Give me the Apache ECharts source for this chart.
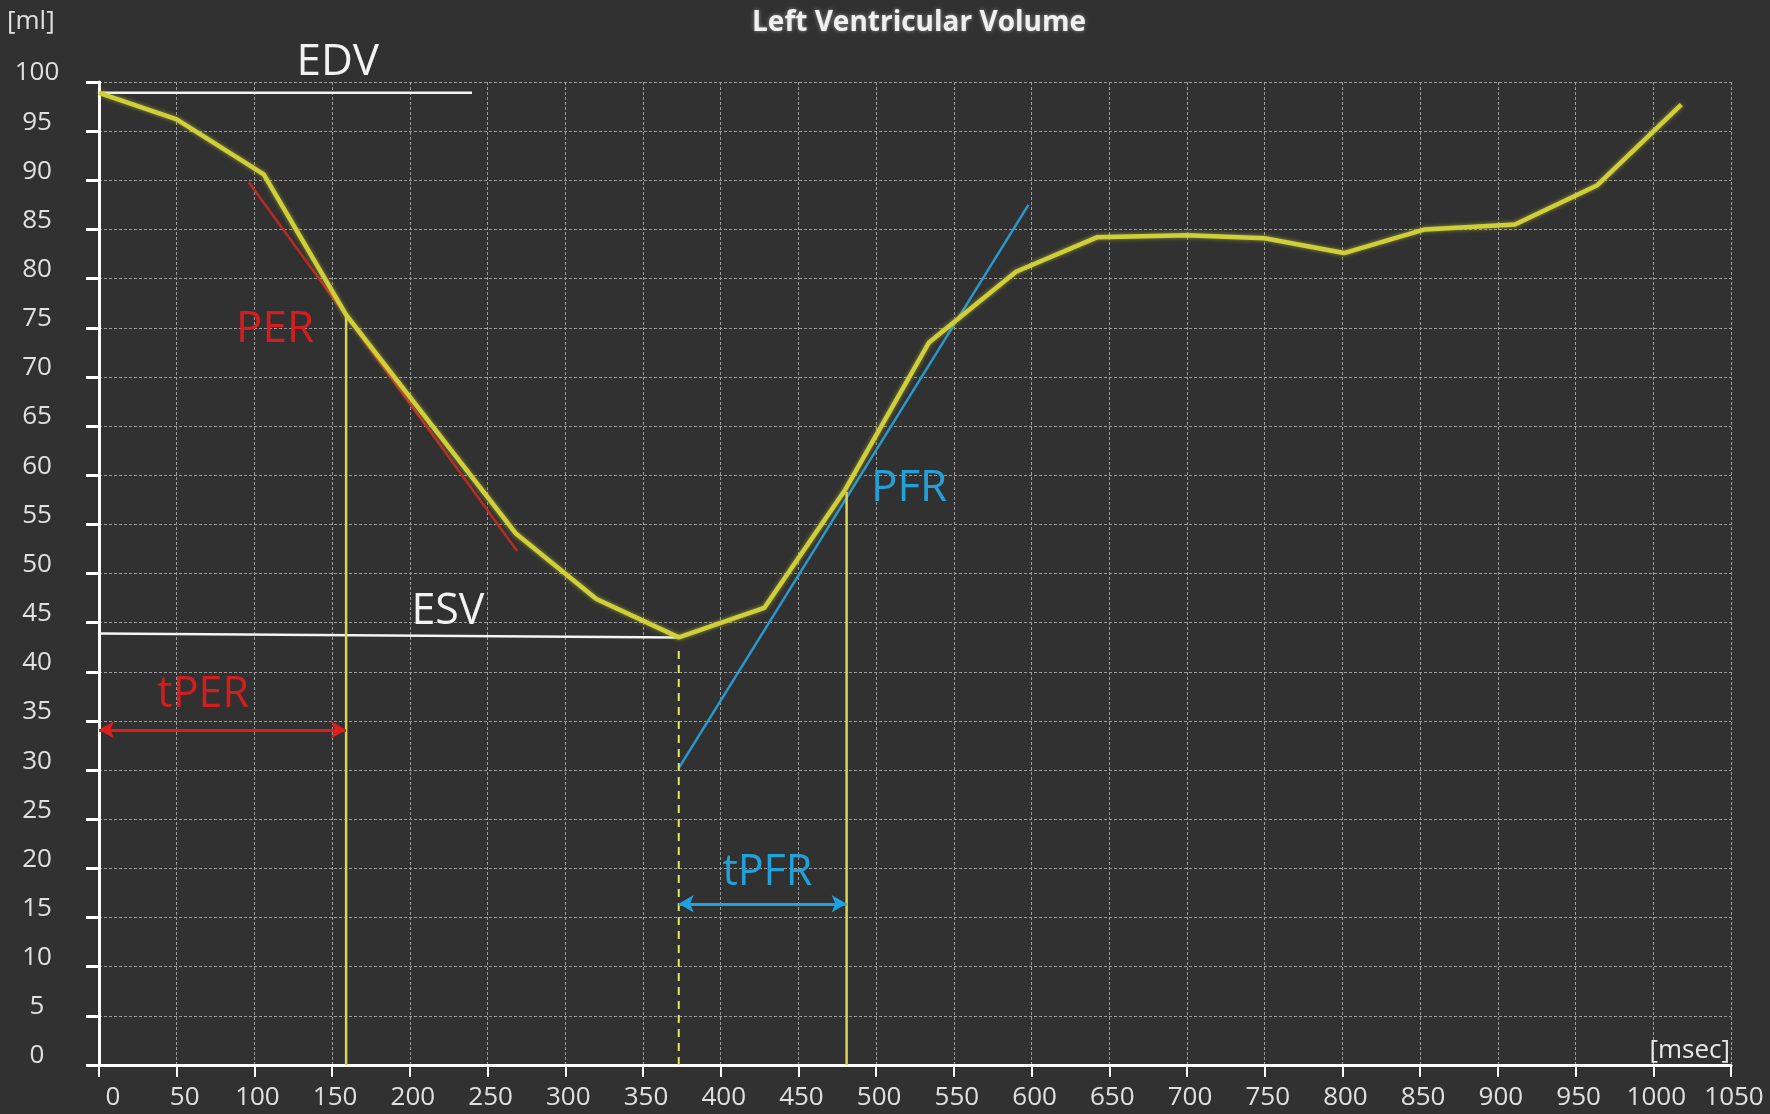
<!DOCTYPE html>
<html>
<head>
<meta charset="utf-8">
<script src="https://cdn.jsdelivr.net/npm/echarts@6/dist/echarts.min.js"></script>
<style>
html,body{margin:0;padding:0;background:#313131;}
#c{width:1770px;height:1114px;}
</style>
</head>
<body>
<div id="c"></div>
<script>
// ---- data ----
const times   = [0, 50, 106, 159, 268, 320, 373, 428, 480, 534, 590, 642, 700, 750, 801, 853, 911, 964, 1018];
const volumes = [98.9, 96.2, 90.6, 76.3, 54.1, 47.4, 43.5, 46.5, 58.5, 73.5, 80.7, 84.2, 84.4, 84.1, 82.6, 85.0, 85.5, 89.5, 97.7];

const edvLine   = [[0, 98.9], [240, 98.9]];
const esvLine   = [[0, 43.9], [373, 43.5]];
const perLine   = [[96.4, 89.8], [269, 52.3]];
const pfrLine   = [[373, 30.2], [598, 87.5]];
const perVert   = [[159, 0], [159, 76.3]];
const pfrVert   = [[481, 0], [481, 58.3]];
const esvVert   = [[373, 0], [373, 42.2]];
const tperArrow = [[0, 34.1], [159, 34.1]];
const tpfrArrow = [[373, 16.4], [481, 16.4]];

const xTicks = {min: 0, max: 1050, step: 50};
const yTicks = {min: 0, max: 100, step: 5};

const notes = [
  {text: 'EDV',  t: 153.6, v: 102.0, color: '#f2f2f2', size: 44},
  {text: 'PER',  t: 113.3, v: 74.8,  color: '#d21e1e', size: 44},
  {text: 'ESV',  t: 224.5, v: 46.1,  color: '#f2f2f2', size: 43},
  {text: 'tPER', t: 67.0,  v: 37.7,  color: '#d21e1e', size: 43},
  {text: 'PFR',  t: 521.2, v: 58.7,  color: '#22a0d8', size: 44},
  {text: 'tPFR', t: 430.0, v: 19.6,  color: '#22a0d8', size: 43}
];

const curve = times.map((t, i) => [t, volumes[i]]);
const FONT = '"Open Sans", "DejaVu Sans", sans-serif';
const LABEL = '#e0e0e0';

function seg(name, data, color, width, type) {
  return {
    name, type: 'line', data, symbol: 'none', silent: true, z: 3,
    lineStyle: {color, width, type: type || 'solid'}
  };
}
function arrow(name, data, color) {
  return {
    name, type: 'line', data: [], symbol: 'none', silent: true, z: 4,
    markLine: {
      silent: true, animation: false,
      symbol: ['arrow', 'arrow'], symbolSize: [13, 15],
      label: {show: false},
      lineStyle: {color, width: 3, type: 'solid'},
      data: [[{coord: data[0]}, {coord: data[1]}]]
    }
  };
}

const chart = echarts.init(document.getElementById('c'));
chart.setOption({
  backgroundColor: '#313131',
  animation: false,
  title: {
    text: 'Left Ventricular Volume',
    left: 914, top: 4, textAlign: 'center',
    textStyle: {color: '#f0f0f0', fontSize: 28, fontWeight: 'bold', fontFamily: FONT,
      textShadowColor: 'rgba(255,255,255,0.45)', textShadowBlur: 4}
  },
  grid: {left: 99, right: 39, top: 82, bottom: 49},
  xAxis: {
    type: 'value', min: xTicks.min, max: xTicks.max, interval: xTicks.step,
    axisLine: {show: true, onZero: false, lineStyle: {color: '#ffffff', width: 3}},
    axisTick: {show: true, length: 12, lineStyle: {color: '#ffffff', width: 2}},
    axisLabel: {
      color: LABEL, fontSize: 26, fontFamily: FONT, margin: 20, padding: [0, 0, 0, 6],
      showMaxLabel: true, showMinLabel: true,
      formatter: v => v === 0 ? '{z|0}' : (v === 50 ? '{f|50}' : String(v)),
      rich: {
        z: {color: LABEL, fontSize: 26, fontFamily: FONT, padding: [0, 0, 0, 22]},
        f: {color: LABEL, fontSize: 26, fontFamily: FONT, padding: [0, 0, 0, 10]}
      }
    },
    splitLine: {show: true, lineStyle: {color: '#9c9c9c', width: 1, type: [3, 2]}}
  },
  yAxis: {
    type: 'value', min: yTicks.min, max: yTicks.max, interval: yTicks.step,
    axisLine: {show: true, onZero: false, lineStyle: {color: '#ffffff', width: 3}},
    axisTick: {show: true, length: 13, lineStyle: {color: '#ffffff', width: 3}},
    axisLabel: {color: LABEL, fontSize: 26, fontFamily: FONT, margin: 62, align: 'center',
      verticalAlign: 'bottom', lineHeight: 18},
    splitLine: {show: true, lineStyle: {color: '#9c9c9c', width: 1, type: [3, 2]}}
  },
  series: [
    seg('EDV', edvLine, '#f4f4f4', 2.5),
    seg('ESV', esvLine, '#f4f4f4', 2.5),
    seg('PER slope', perLine, '#b82a24', 2.5),
    seg('PFR slope', pfrLine, '#2a98cc', 2.5),
    seg('tPER mark', perVert, '#d6d650', 2.5),
    seg('tPFR mark', pfrVert, '#d6d650', 2.5),
    seg('ESV mark', esvVert, '#e6e660', 2, [8, 6]),
    arrow('tPER', tperArrow, '#e01c1c'),
    arrow('tPFR', tpfrArrow, '#1ea2e2'),
    {
      name: 'LV volume', type: 'line', data: curve, symbol: 'none', silent: true, z: 5,
      lineStyle: {color: '#cfcf3a', width: 4.5, shadowColor: 'rgba(210,210,60,0.6)', shadowBlur: 4}
    }
  ]
});

// annotation texts anchored in data space
const g = notes.map(n => {
  const p = chart.convertToPixel({gridIndex: 0}, [n.t, n.v]);
  return {type: 'text', x: p[0], y: p[1], z: 10,
    style: {text: n.text, fill: n.color, fontSize: n.size, fontFamily: FONT,
      align: 'center', verticalAlign: 'middle'}};
});
chart.setOption({graphic: g.concat([
  {type: 'text', left: 7, top: 9, style: {text: '[ml]', fill: LABEL, fontSize: 26, fontFamily: FONT}},
  {type: 'text', right: 40, bottom: 50, style: {text: '[msec]', fill: '#e8e8e8', fontSize: 26, fontFamily: FONT}}
])});
</script>
</body>
</html>
